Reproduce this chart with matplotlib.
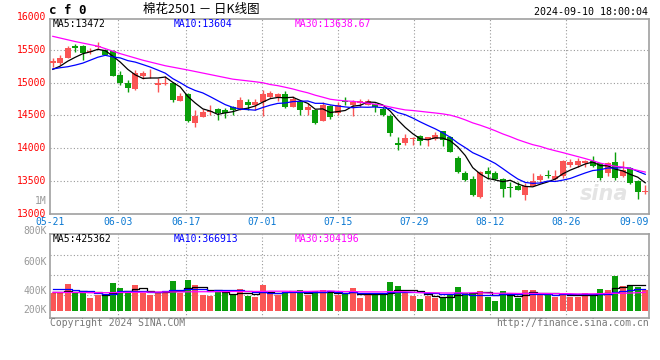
import numpy as np
import pandas as pd
import matplotlib
matplotlib.use('Agg')
import matplotlib.pyplot as plt
from matplotlib.transforms import blended_transform_factory

plt.rcParams['font.family'] = ['DejaVu Sans Mono', 'Noto Sans CJK SC']

# daily K data, 2024-05-21 .. 2024-09-10 (80 sessions)
opens = [15307, 15296, 15383, 15566, 15561, 15469, 15551, 15500, 15490, 15118,
         15001, 14905, 15108, 15128, 14966, 14981, 15001, 14726, 14823, 14390,
         14482, 14548, 14599, 14584, 14630, 14599, 14711, 14660, 14711, 14787,
         14787, 14828, 14635, 14701, 14584, 14584, 14421, 14650, 14533, 14726,
         14660, 14686, 14660, 14675, 14599, 14492, 14075, 14085, 14136, 14187,
         14126, 14146, 14258, 14177, 13856, 13617, 13530, 13245, 13652, 13617,
         13530, 13403, 13423, 13286, 13428, 13505, 13591, 13530, 13581, 13744,
         13744, 13780, 13805, 13769, 13617, 13785, 13566, 13693, 13494, 13327]
closes = [15337, 15373, 15525, 15525, 15459, 15480, 15566, 15424, 15108, 15001,
          14925, 15144, 15154, 15139, 15001, 15001, 14736, 14797, 14421, 14492,
          14558, 14568, 14543, 14533, 14584, 14736, 14660, 14711, 14828, 14848,
          14828, 14635, 14752, 14584, 14625, 14380, 14660, 14472, 14660, 14706,
          14711, 14726, 14726, 14630, 14508, 14238, 14054, 14151, 14151, 14116,
          14166, 14207, 14126, 13947, 13642, 13515, 13276, 13642, 13606, 13530,
          13377, 13388, 13362, 13413, 13500, 13576, 13566, 13581, 13810, 13785,
          13805, 13805, 13729, 13540, 13769, 13550, 13668, 13464, 13327, 13337]
highs = [15373, 15424, 15561, 15592, 15576, 15525, 15617, 15515, 15500, 15184,
         15042, 15195, 15184, 15205, 15067, 15103, 15016, 14848, 14838, 14584,
         14594, 14660, 14609, 14609, 14650, 14787, 14752, 14752, 14889, 14874,
         14848, 14874, 14803, 14736, 14686, 14594, 14711, 14660, 14711, 14787,
         14736, 14747, 14747, 14696, 14625, 14523, 14166, 14222, 14177, 14197,
         14177, 14248, 14268, 14187, 13881, 13652, 13576, 13647, 13718, 13657,
         13540, 13479, 13489, 13464, 13617, 13606, 13668, 13668, 13820, 13835,
         13856, 13820, 13881, 13780, 13795, 13942, 13810, 13708, 13505, 13433]
lows = [15246, 15271, 15373, 15475, 15347, 15439, 15510, 15418, 15108, 14966,
        14864, 14889, 15052, 15077, 14864, 14966, 14711, 14721, 14406, 14329,
        14472, 14508, 14431, 14457, 14513, 14584, 14584, 14584, 14492, 14762,
        14726, 14609, 14625, 14513, 14513, 14370, 14416, 14447, 14513, 14660,
        14487, 14625, 14655, 14558, 14492, 14187, 13973, 14054, 14054, 14044,
        14029, 14126, 14034, 13942, 13627, 13490, 13271, 13240, 13525, 13515,
        13245, 13260, 13352, 13199, 13413, 13464, 13540, 13515, 13540, 13708,
        13708, 13718, 13718, 13515, 13566, 13505, 13561, 13454, 13225, 13291]
# volume, thousands of lots
volumes = [300, 300, 444, 289, 317, 217, 261, 244, 461, 378,
           317, 428, 289, 261, 289, 289, 494, 289, 511, 428,
           261, 244, 317, 289, 278, 361, 244, 233, 428, 317,
           261, 317, 317, 344, 261, 328, 344, 289, 261, 278,
           378, 217, 278, 261, 261, 478, 411, 317, 244, 194,
           244, 211, 211, 261, 394, 289, 300, 328, 233, 161,
           328, 294, 217, 344, 344, 261, 294, 222, 294, 233,
           233, 294, 278, 361, 344, 578, 411, 428, 400, 344]

# MA values before enough history exists
ma5_head = [15205, 15255, 15330, 15390]
ma10_head = [15210, 15230, 15245, 15270, 15300, 15345, 15390, 15420, 15395]
ma30_head_idx = [0, 3, 6, 9, 12, 15, 18, 21, 24, 27, 28]
ma30_head = [15710, 15630, 15560, 15445, 15345, 15260, 15195, 15125, 15055, 15015, 15000]
vma5_head = [317, 317, 328, 317]
vma10_head = [356, 356, 356, 344, 328, 328, 289, 278, 278]
vma30_head_idx = [0, 7, 14, 21, 28]
vma30_head = [306, 300, 311, 317, 322]

tick_idx = [0, 9, 18, 28, 38, 48, 58, 68, 78]
tick_labels = ['05-21', '06-03', '06-17', '07-01', '07-15', '07-29', '08-12', '08-26', '09-09']
price_ticks = [13000, 13500, 14000, 14500, 15000, 15500, 16000]

RED = '#fa5555'
GREEN = '#0a9e0a'
GRID = '#999999'
n = len(closes)
x = np.arange(n)
o = np.array(opens); c = np.array(closes)
up = c >= o
cols = np.where(up, RED, GREEN)

cs = pd.Series(closes, dtype=float)
ma5 = cs.rolling(5).mean().values; ma5[:4] = ma5_head
ma10 = cs.rolling(10).mean().values; ma10[:9] = ma10_head
ma30 = cs.rolling(30).mean().values
vs = pd.Series(volumes, dtype=float) * 1000
vma5 = vs.rolling(5).mean().values; vma5[:4] = np.array(vma5_head) * 1000
vma10 = vs.rolling(10).mean().values; vma10[:9] = np.array(vma10_head) * 1000
vma30 = vs.rolling(30).mean().values

fig = plt.figure(figsize=(6.6, 3.6), dpi=100)
W, H = 660.0, 360.0
ax = fig.add_axes([50 / W, 1 - 213.5 / H, 599 / W, 194.5 / H])
axv = fig.add_axes([50 / W, 1 - 317.7 / H, 599 / W, 83.4 / H])

xlo, xhi = -0.37, 79.5
gx = [xlo + i * (xhi - xlo) / 79 for i in tick_idx]

for a in (ax, axv):
    a.set_xlim(xlo, xhi)
    a.set_xticks([]); a.set_yticks([])
    for s in a.spines.values():
        s.set_color('#a0a0a0'); s.set_linewidth(1.2)
    for g in gx[1:-1]:
        a.axvline(g, color=GRID, lw=0.8, ls=(0, (1, 2)), zorder=0)

# price panel
ax.set_ylim(13000, 15975)
for p in price_ticks[1:-1]:
    ax.axhline(p, color=GRID, lw=0.8, ls=(0, (1, 2)), zorder=0)
ax.vlines(x, lows, highs, colors=cols, lw=1.0, zorder=2)
body_lo = np.minimum(o, c)
body_h = np.maximum(np.abs(c - o), 8)
ax.bar(x, body_h, bottom=body_lo, width=0.8, color=cols, zorder=3, linewidth=0)
ax.plot(x, ma5, color='black', lw=0.9, zorder=4)
ax.plot(x, ma10, color='#0000ff', lw=0.9, zorder=4)
ax.plot(ma30_head_idx + list(x[29:]), ma30_head + list(ma30[29:]),
        color='#ff00ff', lw=0.9, zorder=4)
ax.text(0.965, 0.1, 'sina', transform=ax.transAxes, ha='right', va='center',
        fontsize=15, style='italic', weight='bold', color='#e4e4e4',
        family='DejaVu Sans', zorder=1)

ytr = blended_transform_factory(ax.transAxes, ax.transData)
for p in price_ticks:
    ax.text(-0.006, p, str(p), transform=ytr, ha='right', va='center',
            color='#ff0000', fontsize=7, clip_on=False)
xtr = blended_transform_factory(ax.transData, ax.transAxes)
for g, lab in zip(gx, tick_labels):
    if lab == tick_labels[-1]:
        ax.text(1.0, -0.045, lab, transform=ax.transAxes, ha='right', va='center',
                color='#0a78d2', fontsize=7)
    else:
        ax.text(g, -0.045, lab, transform=xtr, ha='center', va='center',
                color='#0a78d2', fontsize=7)

# volume panel
axv.set_ylim(-116700, 1273000)
for f in (0.272, 0.512, 0.752):
    axv.plot([0, 1], [f, f], transform=axv.transAxes, color=GRID, lw=0.8,
             ls=(0, (1, 2)), zorder=0)
axv.bar(x, vs.values, width=0.83, color=cols, linewidth=0, zorder=2)
axv.plot(x, vma5, color='black', lw=0.9, drawstyle='steps-mid', zorder=3)
axv.plot(x, vma10, color='#0000ff', lw=0.9, drawstyle='steps-mid', zorder=3)
axv.plot(vma30_head_idx + list(x[29:]),
         list(np.array(vma30_head) * 1000) + list(vma30[29:]),
         color='#ff00ff', lw=0.9, zorder=3)

def ftext(px, py, s, **kw):
    fig.text(px / W, 1 - py / H, s, **kw)

for lab, py in zip(['1M', '800K', '600K', '400K', '200K'], [201, 231, 261.7, 290.7, 310.3]):
    ftext(46.5, py, lab, ha='right', va='center', color='#999999', fontsize=7)

ftext(49, 11, 'c f 0', ha='left', va='center', fontsize=9, weight='bold')
ftext(201, 9.5, '棉花2501 － 日K线图', ha='center', va='center', fontsize=9,
      family=['Noto Sans CJK SC', 'DejaVu Sans'])
ftext(648, 12, '2024-09-10 18:00:04', ha='right', va='center', fontsize=7.2)

ftext(53, 24, 'MA5:%d' % 13472, ha='left', va='center', fontsize=7, color='black')
ftext(174, 24, 'MA10:%d' % 13604, ha='left', va='center', fontsize=7, color='#0000ff')
ftext(295, 24, 'MA30:%.2f' % 13638.67, ha='left', va='center', fontsize=7, color='#ff00ff')
ftext(53, 238.5, 'MA5:%d' % 425362, ha='left', va='center', fontsize=7, color='black')
ftext(174, 238.5, 'MA10:%d' % 366913, ha='left', va='center', fontsize=7, color='#0000ff')
ftext(295, 238.5, 'MA30:%d' % 304196, ha='left', va='center', fontsize=7, color='#ff00ff')

ftext(50, 323.5, 'Copyright 2024 SINA.COM', ha='left', va='center', fontsize=7, color='#777777')
ftext(649, 323.5, 'http://finance.sina.com.cn', ha='right', va='center', fontsize=7, color='#777777')

fig.savefig('out.png', dpi=100)
